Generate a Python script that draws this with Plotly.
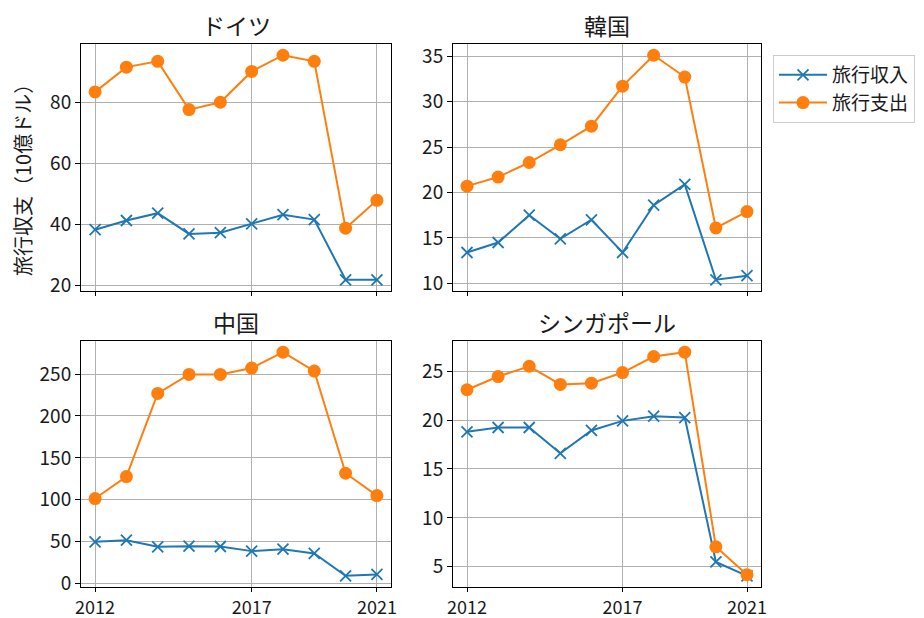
import plotly.graph_objects as go

years = [2012, 2013, 2014, 2015, 2016, 2017, 2018, 2019, 2020, 2021]
countries = ["ドイツ", "韓国", "中国", "シンガポール"]

germany_income = [38.3, 41.3, 43.7, 36.9, 37.3, 40.2, 43.2, 41.6, 21.9, 21.9]
germany_expense = [83.4, 91.5, 93.4, 77.6, 80.0, 90.1, 95.4, 93.4, 38.8, 47.9]
korea_income = [13.4, 14.5, 17.5, 14.9, 17.0, 13.4, 18.6, 20.9, 10.4, 10.85]
korea_expense = [20.7, 21.7, 23.3, 25.25, 27.3, 31.7, 35.1, 32.7, 16.1, 17.9]
china_income = [49.7, 51.7, 43.7, 44.5, 44.1, 38.6, 40.9, 35.8, 9.1, 10.7]
china_expense = [101.4, 127.6, 227.0, 249.6, 249.6, 257.2, 276.2, 253.6, 131.6, 104.9]
singapore_income = [18.8, 19.24, 19.24, 16.6, 18.94, 19.92, 20.4, 20.26, 5.5, 4.08]
singapore_expense = [23.1, 24.45, 25.5, 23.64, 23.77, 24.86, 26.5, 26.94, 7.04, 4.2]

x_ticks = [2012, 2017, 2021]
y_dticks = [20, 5, 50, 5]
series_names = ["旅行収入", "旅行支出"]
y_label = "旅行収支（10億ドル）"

W, H = 924, 618
FONT = "Noto Sans CJK JP"
BLUE = "#1f77b4"
ORANGE = "#ff7f0e"
TXT = "#1a1a1a"

incomes = [germany_income, korea_income, china_income, singapore_income]
expenses = [germany_expense, korea_expense, china_expense, singapore_expense]

# pixel boxes: (left, right, top, bottom)
boxes = [(81, 391, 44, 291), (453, 761, 44, 291), (81, 391, 341, 587), (453, 761, 341, 587)]

fig = go.Figure()
annotations = []
for i in range(4):
    l, r, t, b = boxes[i]
    xa = "xaxis" if i == 0 else f"xaxis{i+1}"
    ya = "yaxis" if i == 0 else f"yaxis{i+1}"
    xref = "x" if i == 0 else f"x{i+1}"
    yref = "y" if i == 0 else f"y{i+1}"
    fig.add_trace(go.Scatter(
        x=years, y=incomes[i], mode="lines+markers", name=series_names[0],
        line=dict(color=BLUE, width=2),
        marker=dict(symbol="x-thin", size=11, color=BLUE, line=dict(color=BLUE, width=1.8)),
        xaxis=xref, yaxis=yref, showlegend=(i == 0), legendgroup="inc"))
    fig.add_trace(go.Scatter(
        x=years, y=expenses[i], mode="lines+markers", name=series_names[1],
        line=dict(color=ORANGE, width=2),
        marker=dict(symbol="circle", size=13, color=ORANGE),
        xaxis=xref, yaxis=yref, showlegend=(i == 0), legendgroup="exp"))
    allv = incomes[i] + expenses[i]
    lo, hi = min(allv), max(allv)
    m = (hi - lo) * 0.05
    xm = (years[-1] - years[0]) * 0.05
    common = dict(showline=True, linecolor="#000", linewidth=1, mirror=True,
                  ticks="outside", tickcolor="#000", automargin=False,
                  showgrid=True, gridcolor="#b0b0b0", gridwidth=1, zeroline=False)
    fig.update_layout({
        xa: dict(domain=[l / W, r / W], anchor=yref, range=[years[0] - xm, years[-1] + xm],
                 tickvals=x_ticks, showticklabels=(i >= 2), ticklen=4,
                 tickfont=dict(family=FONT, size=18, color=TXT), **common),
        ya: dict(domain=[1 - b / H, 1 - t / H], anchor=xref, range=[lo - m, hi + m],
                 dtick=y_dticks[i], tick0=0, ticklen=5,
                 tickfont=dict(family=FONT, size=19, color=TXT), **common),
    })
    annotations.append(dict(text=countries[i], x=(l + r) / 2 / W, y=1 - (t - 19) / H,
                            xref="paper", yref="paper", showarrow=False,
                            font=dict(family=FONT, size=23, color=TXT),
                            xanchor="center", yanchor="middle"))

annotations.append(dict(text=y_label, x=22 / W, y=1 - 175 / H, xref="paper", yref="paper",
                        showarrow=False, textangle=-90,
                        font=dict(family=FONT, size=20, color=TXT),
                        xanchor="center", yanchor="middle"))

fig.update_layout(
    width=W, height=H, margin=dict(l=0, r=0, t=0, b=0, autoexpand=False),
    paper_bgcolor="white", plot_bgcolor="white",
    annotations=annotations,
    font=dict(family=FONT, color=TXT),
    legend=dict(x=773 / W, y=1 - 55 / H, xanchor="left", yanchor="top",
                bordercolor="#cccccc", borderwidth=1, bgcolor="white",
                itemwidth=48, tracegroupgap=0,
                font=dict(family=FONT, size=19, color=TXT)),
)

fig.write_html("out.html")
